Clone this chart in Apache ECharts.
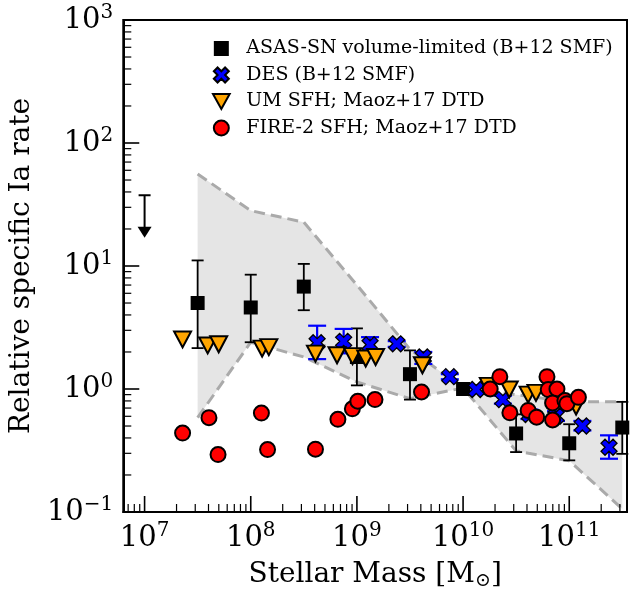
<!DOCTYPE html>
<html>
<head>
  <meta charset="utf-8">
  <title>Relative specific Ia rate</title>
  <script src="https://cdn.jsdelivr.net/npm/echarts@6/dist/echarts.min.js"></script>
</head>
<body style="margin:0">
  <div id="chart" style="width:632px;height:596px"></div>
  <script>
    // ASAS-SN volume-limited (B+12 SMF)
    const asasMass = [3.16e7, 1e8, 3.16e8, 1e9, 3.16e9, 1e10, 3.16e10, 1e11, 3.16e11];
    const asasRate = [5.0, 4.6, 6.8, 1.82, 1.32, 1.0, 0.435, 0.362, 0.486];
    const asasLo = [2.15, 2.4, 4.37, 1.07, 0.82, 1.0, 0.307, 0.263, 0.297];
    const asasHi = [11.1, 8.5, 10.4, 3.11, 2.06, 1.0, 0.622, 0.517, 0.786];
    // upper limit in the lowest mass bin: [mass, cap, arrow tip]
    const asasLimit = [[1e7, 37.6, 17]];

    // DES (B+12 SMF)
    const desMass = [4.22e8, 7.5e8, 1.33e9, 2.37e9, 4.22e9, 7.5e9, 1.33e10, 2.37e10, 4.22e10, 7.5e10, 1.33e11, 2.37e11];
    const desRate = [2.38, 2.44, 2.29, 2.33, 1.82, 1.26, 0.99, 0.82, 0.62, 0.6, 0.5, 0.336];
    const desLo = [1.75, 1.95, 1.95, 2.2, 1.6, 1.2, 0.95, 0.76, 0.57, 0.55, 0.46, 0.271];
    const desHi = [3.27, 3.08, 2.64, 2.45, 2.0, 1.32, 1.03, 0.88, 0.68, 0.66, 0.55, 0.42];

    // UM SFH; Maoz+17 DTD
    const umMass = [2.28e7, 3.93e7, 4.99e7, 1.28e8, 1.48e8, 4.07e8, 6.5e8, 9.1e8, 1.21e9, 1.5e9, 4.14e9, 1.73e10, 2.72e10, 4.1e10, 4.86e10, 1.16e11];
    const umRate = [2.53, 2.26, 2.31, 2.13, 2.19, 1.94, 1.88, 1.85, 1.77, 1.82, 1.56, 1.06, 0.99, 0.9, 0.93, 0.72];

    // FIRE-2 SFH; Maoz+17 DTD
    const fireMass = [2.28e7, 4.04e7, 4.92e7, 1.26e8, 1.44e8, 4.07e8, 6.62e8, 9.06e8, 1.02e9, 1.48e9, 4.06e9,
      1.8e10, 2.22e10, 2.76e10, 4.1e10, 4.93e10, 6.17e10, 6.34e10, 7.66e10, 6.97e10, 6.97e10, 9.1e10, 9.5e10, 1.22e11];
    const fireRate = [0.438, 0.585, 0.293, 0.637, 0.322, 0.324, 0.567, 0.69, 0.795, 0.82, 0.945,
      1.0, 1.26, 0.64, 0.67, 0.59, 1.26, 0.99, 1.0, 0.77, 0.56, 0.805, 0.76, 0.855];

    // grey envelope
    const bandMass = [3.16e7, 1e8, 3.16e8, 1e9, 3.16e9, 1e10, 3.16e10, 1e11, 3.16e11];
    const bandHi = [56, 28.2, 22.7, 7.0, 2.1, 1.02, 0.9, 0.786, 0.786];
    const bandLo = [0.585, 2.4, 1.82, 1.14, 0.835, 1.02, 0.314, 0.261, 0.106];

    const serif = 'DejaVu Serif';
    const xMin = 6.3e6, xMax = 3.5e11, yMin = 0.1, yMax = 1000;

    // ticks
    const xMajor = [1e7, 1e8, 1e9, 1e10, 1e11];
    const yMajor = [0.1, 1, 10, 100, 1000];
    const xMinor = [];
    for (let e = 6; e <= 11; e++) for (let k = 2; k <= 9; k++) {
      const v = k * Math.pow(10, e);
      if (v > xMin && v < xMax) xMinor.push(v);
    }
    const yMinor = [];
    for (let e = -1; e <= 2; e++) for (let k = 2; k <= 9; k++) yMinor.push(+(k * Math.pow(10, e)).toPrecision(3));

    const sup = v => '{b|10}{s|' + Math.round(Math.log10(v)).toString().replace('-', '\u2212') + '}';
    const supRich = {
      b: { fontFamily: serif, fontSize: 29, lineHeight: 34, color: '#000' },
      s: { fontFamily: serif, fontSize: 20, lineHeight: 20, verticalAlign: 'top', color: '#000' }
    };
    const frame = { show: true, lineStyle: { color: '#000', width: 2 } };

    // inward ticks drawn along the bottom / left frame
    function ticks(values, dir, len, width) {
      return {
        type: 'custom', silent: true, z: 10, clip: false,
        data: values.map(v => dir === 'x' ? [v, yMin] : [xMin, v]),
        renderItem: (params, api) => {
          const c = api.coord([api.value(0), api.value(1)]);
          const shape = dir === 'x'
            ? { x1: c[0], y1: c[1], x2: c[0], y2: c[1] - len }
            : { x1: c[0], y1: c[1], x2: c[0] + len, y2: c[1] };
          return { type: 'line', shape: shape, style: { stroke: '#000', lineWidth: width } };
        }
      };
    }

    function errorBars(name, mass, lo, hi, color, cap, width) {
      return {
        type: 'custom', name: name, silent: true, z: 3,
        data: mass.map((m, i) => [m, lo[i], hi[i]]),
        encode: { x: 0, y: [1, 2] },
        renderItem: (params, api) => {
          const t = api.coord([api.value(0), api.value(2)]);
          const b = api.coord([api.value(0), api.value(1)]);
          const style = { stroke: color, lineWidth: width };
          return {
            type: 'group', children: [
              { type: 'line', shape: { x1: t[0], y1: t[1], x2: b[0], y2: b[1] }, style: style },
              { type: 'line', shape: { x1: t[0] - cap, y1: t[1], x2: t[0] + cap, y2: t[1] }, style: style },
              { type: 'line', shape: { x1: b[0] - cap, y1: b[1], x2: b[0] + cap, y2: b[1] }, style: style }
            ]
          };
        }
      };
    }

    const squarePath = 'path://M0,0L10,0L10,10L0,10Z';
    const xPath = 'path://M2.5,0L5,2.5L7.5,0L10,2.5L7.5,5L10,7.5L7.5,10L5,7.5L2.5,10L0,7.5L2.5,5L0,2.5Z';
    const triDown = 'path://M0,0L10,0L5,9Z';

    const myChart = echarts.init(document.getElementById('chart'));
    const option = {
      animation: false,
      grid: { left: 123, right: 5, top: 20, bottom: 77, show: true, borderColor: '#000', borderWidth: 2 },
      legend: {
        orient: 'vertical', left: 207, top: 34, itemWidth: 40, itemHeight: 15, itemGap: 7.5,
        data: ['ASAS-SN volume-limited (B+12 SMF)', 'DES (B+12 SMF)', 'UM SFH; Maoz+17 DTD', 'FIRE-2 SFH; Maoz+17 DTD'],
        textStyle: { fontFamily: serif, fontSize: 19, color: '#000' }
      },
      xAxis: {
        type: 'log', logBase: 10, min: xMin, max: xMax,
        axisLine: frame, splitLine: { show: false }, axisTick: { show: false },
        axisLabel: { customValues: xMajor, formatter: sup, rich: supRich, margin: 9 },
        name: '{n|Stellar Mass [M}{u|\u2299}{n|]}', nameLocation: 'middle', nameGap: 47,
        nameTextStyle: {
          rich: {
            n: { fontFamily: serif, fontSize: 28, lineHeight: 32, color: '#000' },
            u: { fontFamily: serif, fontSize: 19, lineHeight: 19, verticalAlign: 'bottom', color: '#000' }
          }
        }
      },
      yAxis: {
        type: 'log', logBase: 10, min: yMin, max: yMax,
        axisLine: frame, splitLine: { show: false }, axisTick: { show: false },
        axisLabel: { customValues: yMajor, formatter: sup, rich: supRich, margin: 10 },
        name: 'Relative specific Ia rate', nameLocation: 'middle', nameGap: 72,
        nameTextStyle: { fontFamily: serif, fontSize: 28, color: '#000' }
      },
      series: [
        {
          type: 'custom', name: 'band', silent: true, z: 1,
          data: bandMass.map((m, i) => [m, bandLo[i], bandHi[i]]),
          encode: { x: 0, y: [1, 2] },
          renderItem: (params, api) => {
            if (params.dataIndex !== 0) return;
            const pts = [];
            bandMass.forEach((m, i) => pts.push(api.coord([m, bandHi[i]])));
            for (let i = bandMass.length - 1; i >= 0; i--) pts.push(api.coord([bandMass[i], bandLo[i]]));
            return { type: 'polygon', shape: { points: pts }, style: { fill: '#e5e5e5' } };
          }
        },
        {
          type: 'line', name: 'bandHi', silent: true, symbol: 'none', z: 2,
          data: bandMass.map((m, i) => [m, bandHi[i]]),
          lineStyle: { color: '#aaaaaa', width: 3, type: [11, 6] }
        },
        {
          type: 'line', name: 'bandLo', silent: true, symbol: 'none', z: 2,
          data: bandMass.map((m, i) => [m, bandLo[i]]),
          lineStyle: { color: '#aaaaaa', width: 3, type: [11, 6] }
        },
        ticks(xMajor, 'x', 16, 1.6),
        ticks(xMinor, 'x', 8, 1.2),
        ticks(yMajor, 'y', 16, 1.6),
        ticks(yMinor, 'y', 8, 1.2),
        errorBars('asasErr', asasMass, asasLo, asasHi, '#000', 6, 1.8),
        {
          type: 'custom', name: 'asasLimit', silent: true, z: 3,
          data: asasLimit,
          encode: { x: 0, y: [1, 2] },
          renderItem: (params, api) => {
            const t = api.coord([api.value(0), api.value(1)]);
            const b = api.coord([api.value(0), api.value(2)]);
            const style = { stroke: '#000', lineWidth: 2 };
            return {
              type: 'group', children: [
                { type: 'line', shape: { x1: t[0], y1: t[1], x2: b[0], y2: b[1] - 8 }, style: style },
                { type: 'line', shape: { x1: t[0] - 6, y1: t[1], x2: t[0] + 6, y2: t[1] }, style: style },
                { type: 'polygon', shape: { points: [[b[0] - 7, b[1] - 11], [b[0] + 7, b[1] - 11], [b[0], b[1]]] }, style: { fill: '#000' } }
              ]
            };
          }
        },
        {
          type: 'scatter', name: 'ASAS-SN volume-limited (B+12 SMF)', z: 4,
          symbol: squarePath, symbolSize: 14,
          data: asasMass.map((m, i) => [m, asasRate[i]]),
          itemStyle: { color: '#000', opacity: 1 }
        },
        errorBars('desErr', desMass, desLo, desHi, '#0000ff', 9, 2.2),
        {
          type: 'scatter', name: 'DES (B+12 SMF)', z: 5,
          symbol: xPath, symbolSize: 16,
          data: desMass.map((m, i) => [m, desRate[i]]),
          itemStyle: { color: '#0000ff', borderColor: '#000', borderWidth: 1.3, opacity: 1 }
        },
        {
          type: 'scatter', name: 'UM SFH; Maoz+17 DTD', z: 6,
          symbol: triDown, symbolSize: [17, 16],
          data: umMass.map((m, i) => [m, umRate[i]]),
          itemStyle: { color: '#ffa500', borderColor: '#000', borderWidth: 2, opacity: 1 }
        },
        {
          type: 'scatter', name: 'FIRE-2 SFH; Maoz+17 DTD', z: 7,
          symbol: 'circle', symbolSize: 15,
          data: fireMass.map((m, i) => [m, fireRate[i]]),
          itemStyle: { color: '#ff0000', borderColor: '#000', borderWidth: 2, opacity: 1 }
        }
      ]
    };
    myChart.setOption(option);
  </script>
</body>
</html>
